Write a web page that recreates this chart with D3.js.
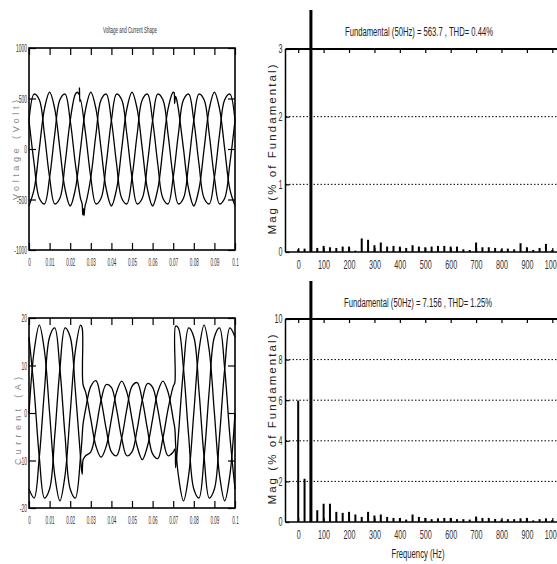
<!DOCTYPE html>
<html>
<head>
<meta charset="utf-8">
<script src="https://cdn.jsdelivr.net/npm/d3@7"></script>
<style>
  html, body { margin: 0; padding: 0; background: #fff; }
  svg { display: block; font-family: "Liberation Sans", Arial, sans-serif; }
</style>
</head>
<body>
<div id="chart"></div>
<script>
// ---- data ----
// sampling instants of the waveforms (s)
const sampleTimes = [0, 0.0025, 0.005, 0.0075, 0.01, 0.0125, 0.015, 0.0175, 0.02, 0.0225,
  0.025, 0.0275, 0.03, 0.0325, 0.035, 0.0375, 0.04, 0.0425, 0.045, 0.0475,
  0.05, 0.0525, 0.055, 0.0575, 0.06, 0.0625, 0.065, 0.0675, 0.07, 0.0725,
  0.075, 0.0775, 0.08, 0.0825, 0.085, 0.0875, 0.09, 0.0925, 0.095, 0.0975, 0.1];

// phase voltages (V)
const voltA = [-563, -398, 0, 398, 563, 398, 0, -398, -563, -398,
  0, 398, 563, 398, 0, -398, -563, -398, 0, 398,
  563, 398, 0, -398, -563, -398, 0, 398, 563, 398,
  0, -398, -563, -398, 0, 398, 563, 398, 0, -398, -563];
const voltB = [282, -146, -488, -544, -282, 146, 488, 544, 282, -146,
  -488, -544, -282, 146, 488, 544, 282, -146, -488, -544,
  -282, 146, 488, 544, 282, -146, -488, -544, -282, 146,
  488, 544, 282, -146, -488, -544, -282, 146, 488, 544, 282];
const voltC = [282, 544, 488, 146, -282, -544, -488, -146, 282, 544,
  488, 146, -282, -544, -488, -146, 282, 544, 488, 146,
  -282, -544, -488, -146, 282, 544, 488, 146, -282, -544,
  -488, -146, 282, 544, 488, 146, -282, -544, -488, -146, 282];
// switching transients [t, V]
const voltExtraA = [[0.0704, 560], [0.0707, 450], [0.0711, 522], [0.0715, 505]];
const voltExtraB = [[0.0258, -545], [0.0261, -650], [0.0264, -590], [0.0267, -660], [0.0270, -600], [0.0273, -556]];
const voltExtraC = [[0.0235, 562], [0.0243, 540], [0.0245, 605], [0.0247, 470]];

// phase currents (A)
const currA = [0, 13.1, 18.5, 13.1, 0, -13.1, -18.5, -13.1, 0, 13.1,
  18.5, 4.4, -1.3, -7.0, -9.3, -7.0, -1.3, 4.4, 6.7, 4.4,
  -1.3, -7.0, -9.8, -7.0, -1.3, 4.4, 6.7, 4.4, -1.3, -13.1,
  -18.5, -13.1, 0, 13.1, 18.5, 13.1, 0, -13.1, -18.5, -13.1, 0];
const currB = [-16.0, -17.9, -9.3, 4.8, 16.0, 17.9, 9.3, -4.8, -16.0, -17.9,
  -9.3, 0.8, 5.6, 6.8, 2.7, -3.4, -8.2, -9.0, -5.3, 0.8,
  5.6, 6.4, 2.7, -3.4, -8.6, -9.6, -5.3, 0.8, 5.6, 17.9,
  9.3, -4.8, -16.0, -17.9, -9.3, 4.8, 16.0, 17.9, 9.3, -4.8, -16.0];
const currC = [16.0, 4.8, -9.3, -17.9, -16.0, -4.8, 9.3, 17.9, 16.0, 4.8,
  -9.3, -9.0, -8.2, -3.4, 2.7, 6.0, 5.4, 0.8, -5.3, -9.0,
  -8.2, -3.4, 2.7, 6.2, 5.4, 0.8, -5.3, -9.0, -8.2, -4.8,
  9.3, 17.9, 16.0, 4.8, -9.3, -17.9, -16.0, -4.8, 9.3, 17.9, 16.0];
const currExtraA = [[0.0258, 17.9], [0.0262, 6.1], [0.0708, -3.3], [0.0712, -6.8]];
const currExtraB = [[0.0258, -5.0], [0.0262, -2.5], [0.0708, 6.4], [0.0712, 18.3]];
const currExtraC = [[0.0258, -12.9], [0.0263, -9.8], [0.0708, -7.6], [0.0712, -11.5]];

// FFT spectra (% of fundamental)
const freqs = [0, 25, 50, 75, 100, 125, 150, 175, 200, 225, 250, 275, 300, 325, 350, 375, 400,
  425, 450, 475, 500, 525, 550, 575, 600, 625, 650, 675, 700, 725, 750, 775, 800,
  825, 850, 875, 900, 925, 950, 975, 1000];
const voltSpectrum = [0.04, 0.05, 100, 0.06, 0.09, 0.07, 0.06, 0.08, 0.08, 0.02,
  0.2, 0.18, 0.1, 0.14, 0.08, 0.09, 0.08, 0.06, 0.1, 0.08,
  0.07, 0.08, 0.09, 0.09, 0.08, 0.08, 0.04, 0.03, 0.14, 0.07,
  0.07, 0.06, 0.04, 0.05, 0.04, 0.13, 0.07, 0.03, 0.06, 0.12, 0.03];
const currSpectrum = [5.98, 2.13, 100, 0.58, 0.9, 0.9, 0.5, 0.45, 0.5, 0.37,
  0.25, 0.5, 0.32, 0.37, 0.25, 0.2, 0.2, 0.12, 0.37, 0.25,
  0.2, 0.14, 0.18, 0.2, 0.2, 0.14, 0.14, 0.12, 0.27, 0.2,
  0.2, 0.15, 0.12, 0.14, 0.14, 0.18, 0.2, 0.08, 0.14, 0.18, 0.1];

// tick labels
const timeTicks = [0, 0.01, 0.02, 0.03, 0.04, 0.05, 0.06, 0.07, 0.08, 0.09, 0.1];
const voltTicks = [-1000, -500, 0, 500, 1000];
const currTicks = [-20, -10, 0, 10, 20];
const freqTicks = [0, 100, 200, 300, 400, 500, 600, 700, 800, 900, 1000];
const magTicksTop = [0, 1, 2, 3];
const magTicksBottom = [0, 2, 4, 6, 8, 10];

const titleWave = "Voltage and Current Shape";
const titleVolt = "Fundamental (50Hz) = 563.7 , THD= 0.44%";
const titleCurr = "Fundamental (50Hz) = 7.156 , THD= 1.25%";

// ---- drawing ----
const width = 557, height = 564;
const svg = d3.select("#chart").append("svg")
  .attr("width", width).attr("height", height);
svg.append("rect").attr("width", width).attr("height", height).attr("fill", "#fff");

function phase(values, extras) {
  return sampleTimes.map((t, i) => [t, values[i]])
    .concat(extras)
    .sort((a, b) => a[0] - b[0]);
}

function styleAxis(sel, sx, anchorX) {
  sel.select(".domain").remove();
  sel.selectAll(".tick line").attr("stroke", "#000").attr("stroke-width", 1.2);
  sel.selectAll(".tick text")
    .attr("fill", "#333")
    .style("font-size", "11px")
    .attr("transform", `scale(${sx},1)`);
  if (anchorX !== undefined) sel.selectAll(".tick text").attr("x", anchorX / sx);
}

function wavePanel(box, yDomain, yTicks, series, ylabel, title) {
  const x = d3.scaleLinear().domain([0, 0.1]).range([box.x0, box.x1]);
  const y = d3.scaleLinear().domain(yDomain).range([box.y1, box.y0]);
  const g = svg.append("g");
  const tk = 7;

  g.append("g").attr("transform", `translate(0,${box.y1})`)
    .call(d3.axisBottom(x).tickValues(timeTicks).tickSize(-tk).tickSizeOuter(0).tickPadding(8).tickFormat(d => String(d)))
    .call(s => styleAxis(s, 0.42));
  g.append("g").attr("transform", `translate(0,${box.y0})`)
    .call(d3.axisTop(x).tickValues(timeTicks).tickSize(-tk).tickSizeOuter(0).tickFormat(""))
    .call(s => styleAxis(s, 1));
  g.append("g").attr("transform", `translate(${box.x0},0)`)
    .call(d3.axisLeft(y).tickValues(yTicks).tickSize(-tk).tickSizeOuter(0).tickFormat(d => String(d)))
    .call(s => styleAxis(s, 0.45, -2));
  g.append("g").attr("transform", `translate(${box.x1},0)`)
    .call(d3.axisRight(y).tickValues(yTicks).tickSize(-tk).tickSizeOuter(0).tickFormat(""))
    .call(s => styleAxis(s, 1));

  const line = d3.line()
    .x(d => x(d[0])).y(d => y(d[1]))
    .curve(d3.curveCatmullRom.alpha(0.5));
  series.forEach(pts => {
    g.append("path").attr("d", line(pts))
      .attr("fill", "none").attr("stroke", "#000").attr("stroke-width", 1.3);
  });

  g.append("rect")
    .attr("x", box.x0).attr("y", box.y0)
    .attr("width", box.x1 - box.x0).attr("height", box.y1 - box.y0)
    .attr("fill", "none").attr("stroke", "#000").attr("stroke-width", 1.6);

  g.append("text")
    .attr("transform", `translate(${ylabel.x},${ylabel.y}) rotate(-90)`)
    .attr("text-anchor", "middle").attr("dy", "0.35em")
    .attr("textLength", ylabel.len).attr("lengthAdjust", "spacing")
    .attr("fill", "#888").style("font-size", "9px")
    .text(ylabel.text);

  if (title) {
    g.append("text")
      .attr("x", title.x).attr("y", title.y).attr("dy", "0.35em")
      .attr("text-anchor", "middle")
      .attr("textLength", title.len).attr("lengthAdjust", "spacingAndGlyphs")
      .attr("fill", "#333").style("font-size", "9px")
      .text(title.text);
  }
}

function fftPanel(box, yMax, yTicks, values, clipTop, title, xlabel) {
  const x = d3.scaleLinear().domain([-50, 1050]).range([285.5, 565]);
  const y = d3.scaleLinear().domain([0, yMax]).range([box.y1, box.y0]);
  const g = svg.append("g");
  const tk = 4;

  // dotted grid
  g.selectAll(".grid").data(yTicks.filter(v => v > 0 && v < yMax)).enter()
    .append("line")
    .attr("x1", x(-50)).attr("x2", x(1050))
    .attr("y1", d => y(d)).attr("y2", d => y(d))
    .attr("stroke", "#000").attr("stroke-width", 1)
    .attr("stroke-dasharray", "1.5,2");

  g.append("g").attr("transform", `translate(0,${box.y1})`)
    .call(d3.axisBottom(x).tickValues(freqTicks).tickSize(-tk).tickSizeOuter(0).tickPadding(8).tickFormat(d => String(d)))
    .call(s => styleAxis(s, 0.6));
  g.selectAll(".tick text").style("font-size", "12px");
  g.append("g").attr("transform", `translate(0,${box.y0})`)
    .call(d3.axisTop(x).tickValues(freqTicks).tickSize(-tk).tickSizeOuter(0).tickFormat(""))
    .call(s => styleAxis(s, 1));
  const ya = g.append("g").attr("transform", `translate(${x(-50)},0)`)
    .call(d3.axisLeft(y).tickValues(yTicks).tickSize(-tk).tickSizeOuter(0).tickFormat(d => String(d)))
    .call(s => styleAxis(s, 0.6, -3));
  ya.selectAll(".tick text").style("font-size", "12px");

  // bars
  g.selectAll(".bar").data(freqs.map((f, i) => ({ f, v: values[i] }))).enter()
    .append("rect")
    .attr("x", d => x(d.f) - (d.f === 50 ? 1.5 : 1))
    .attr("width", d => d.f === 50 ? 3 : 2)
    .attr("y", d => Math.max(y(d.v), clipTop))
    .attr("height", d => y(0) - Math.max(y(d.v), clipTop))
    .attr("fill", "#000");

  // frame (right side lies beyond the picture)
  const fr = g.append("g").attr("stroke", "#000");
  fr.append("line").attr("x1", x(-50)).attr("x2", x(1050)).attr("y1", box.y0).attr("y2", box.y0).attr("stroke-width", 1.8);
  fr.append("line").attr("x1", x(-50)).attr("x2", x(1050)).attr("y1", box.y1).attr("y2", box.y1).attr("stroke-width", 1.5);
  fr.append("line").attr("x1", x(-50)).attr("x2", x(-50)).attr("y1", box.y0).attr("y2", box.y1).attr("stroke-width", 1.5);

  g.append("text")
    .attr("transform", `translate(272,${(box.y0 + box.y1) / 2 - 1}) rotate(-90)`)
    .attr("text-anchor", "middle").attr("dy", "0.35em")
    .attr("textLength", 170).attr("lengthAdjust", "spacing")
    .attr("fill", "#222").style("font-size", "11.5px")
    .text("Mag (% of Fundamental)");

  g.append("text")
    .attr("x", title.x).attr("y", title.y).attr("dy", "0.35em")
    .attr("text-anchor", "middle")
    .attr("textLength", 148).attr("lengthAdjust", "spacingAndGlyphs")
    .attr("fill", "#222").style("font-size", "12px")
    .text(title.text);

  if (xlabel) {
    g.append("text")
      .attr("x", 418).attr("y", 554).attr("dy", "0.35em")
      .attr("text-anchor", "middle")
      .attr("textLength", 53).attr("lengthAdjust", "spacingAndGlyphs")
      .attr("fill", "#222").style("font-size", "12px")
      .text(xlabel);
  }
}

wavePanel({ x0: 29, x1: 235, y0: 48, y1: 250 }, [-1000, 1000], voltTicks,
  [phase(voltA, voltExtraA), phase(voltB, voltExtraB), phase(voltC, voltExtraC)],
  { x: 16, y: 150, len: 100, text: "Voltage (Volt)" },
  { x: 130, y: 30, len: 54, text: titleWave });

wavePanel({ x0: 29, x1: 235, y0: 318, y1: 508 }, [-20, 20], currTicks,
  [phase(currA, currExtraA), phase(currB, currExtraB), phase(currC, currExtraC)],
  { x: 18, y: 421, len: 88, text: "Current (A)" }, null);

fftPanel({ y0: 49, y1: 252 }, 3, magTicksTop, voltSpectrum, 10,
  { x: 419, y: 32, text: titleVolt }, null);

fftPanel({ y0: 319, y1: 522 }, 10, magTicksBottom, currSpectrum, 281,
  { x: 418, y: 303, text: titleCurr }, "Frequency (Hz)");
</script>
</body>
</html>
